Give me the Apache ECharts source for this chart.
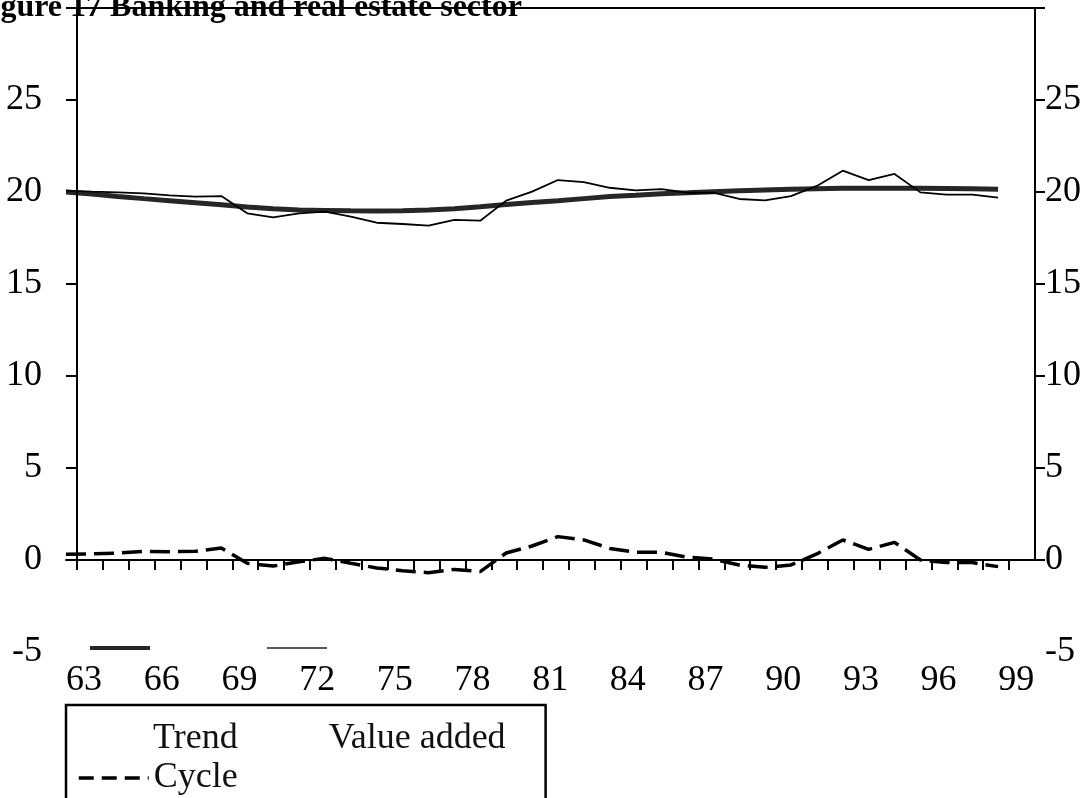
<!DOCTYPE html>
<html>
<head>
<meta charset="utf-8">
<script src="https://cdn.jsdelivr.net/npm/echarts@6/dist/echarts.min.js"></script>
<style>
  html, body { margin: 0; padding: 0; background: #fff; }
  #chart { width: 1089px; height: 798px; }
</style>
</head>
<body>
<div id="chart"></div>
<script>
// years 1963-1999 (two-digit labels)
var years = [63, 64, 65, 66, 67, 68, 69, 70, 71, 72, 73, 74, 75, 76, 77, 78, 79, 80, 81,
  82, 83, 84, 85, 86, 87, 88, 89, 90, 91, 92, 93, 94, 95, 96, 97, 98, 99];
var trend = [20.0, 19.89, 19.76, 19.64, 19.53, 19.42, 19.31, 19.18, 19.09, 19.02,
  19.0, 18.98, 18.97, 18.98, 19.02, 19.09, 19.2, 19.32, 19.43, 19.53,
  19.64, 19.75, 19.82, 19.91, 19.96, 20.02, 20.07, 20.11, 20.15, 20.18,
  20.2, 20.21, 20.21, 20.2, 20.19, 20.17, 20.15];
var valueAdded = [20.07, 20.02, 19.98, 19.93, 19.82, 19.75, 19.78, 18.84, 18.62, 18.84,
  18.93, 18.66, 18.33, 18.26, 18.17, 18.48, 18.44, 19.53, 20.02, 20.65,
  20.54, 20.23, 20.09, 20.16, 19.96, 19.96, 19.62, 19.55, 19.78, 20.33,
  21.16, 20.65, 20.98, 19.98, 19.86, 19.86, 19.69];
var cycle = [0.31, 0.33, 0.38, 0.47, 0.45, 0.47, 0.65, -0.18, -0.33, -0.09,
  0.09, -0.18, -0.43, -0.58, -0.69, -0.51, -0.63, 0.38, 0.76, 1.27,
  1.09, 0.63, 0.42, 0.42, 0.15, 0.05, -0.27, -0.4, -0.27, 0.33,
  1.09, 0.58, 0.96, 0.0, -0.14, -0.14, -0.36];
var xLabelYears = [63, 66, 69, 72, 75, 78, 81, 84, 87, 90, 93, 96, 99];
var yLabels = [-5, 0, 5, 10, 15, 20, 25];
var yTicks = [0, 5, 10, 15, 20, 25, 30];

var FONT = 'Liberation Serif';
// lines start at 63, the frame a bit to the right of it, like the original
var xMin = 63, xMax = 100.425;
var frameLeft = 63.425;
var labelShift = 0.7;

function pairs(vals) {
  return years.map(function (y, i) { return [y, vals[i]]; });
}

var xTicks = [];
for (var t = frameLeft; t < xMax - 0.5; t += 1) xTicks.push(t);

var textStyle = { fontFamily: FONT, fontSize: 36, color: '#111', lineHeight: 25 };

var chart = echarts.init(document.getElementById('chart'));
var option = {
  animation: false,
  title: {
    text: 'Figure 17 Banking and real estate sector',
    left: -28,
    top: -8,
    padding: 0,
    textStyle: { fontFamily: FONT, fontSize: 32, fontWeight: 'bold', color: '#000' }
  },
  grid: { left: 66, right: 54, top: 8, bottom: 146, outerBoundsMode: 'none' },
  legend: [
    {
      // box + first row
      left: 66,
      top: 705,
      padding: [16, 40, 80, 11],
      borderColor: '#000',
      borderWidth: 2.5,
      itemWidth: 70,
      itemHeight: 14,
      itemGap: 15,
      textStyle: textStyle,
      data: [
        { name: 'Trend', lineStyle: { opacity: 0 }, itemStyle: { opacity: 0 } },
        { name: 'Value added', lineStyle: { opacity: 0 }, itemStyle: { opacity: 0 } }
      ]
    },
    {
      left: 66,
      top: 760,
      padding: [0, 0, 0, 11],
      itemWidth: 70,
      itemHeight: 14,
      textStyle: textStyle,
      data: [
        { name: 'Cycle', lineStyle: { type: [15, 8], width: 3.5 }, itemStyle: { opacity: 0 } }
      ]
    }
  ],
  // legend keys that slipped above the labels in the original
  graphic: [
    { type: 'line', shape: { x1: 90, y1: 648, x2: 150, y2: 648 }, style: { stroke: '#262626', lineWidth: 4 } },
    { type: 'line', shape: { x1: 267, y1: 648, x2: 327, y2: 648 }, style: { stroke: '#222', lineWidth: 1.5 } }
  ],
  xAxis: {
    type: 'value',
    min: xMin,
    max: xMax,
    axisLine: { show: true, onZero: true, lineStyle: { color: '#000', width: 2 } },
    axisTick: { show: true, inside: false, length: 10, customValues: xTicks, lineStyle: { color: '#000', width: 2 } },
    axisLabel: {
      customValues: xLabelYears.map(function (y) { return y + labelShift; }),
      formatter: function (v) { return String(Math.round(v - labelShift)); },
      margin: 11,
      fontFamily: FONT, fontSize: 36, color: '#000'
    },
    splitLine: { show: false }
  },
  yAxis: [
    {
      type: 'value', min: -5, max: 30, interval: 5,
      axisLine: { show: false },
      axisTick: { show: true, inside: true, length: 11, customValues: yTicks, lineStyle: { color: '#000', width: 2 } },
      axisLabel: { customValues: yLabels, margin: 24, fontFamily: FONT, fontSize: 36, color: '#000' },
      splitLine: { show: false }
    },
    {
      type: 'value', min: -5, max: 30, interval: 5, position: 'right',
      axisLine: { show: false },
      axisTick: { show: true, inside: false, length: 10, customValues: yTicks, lineStyle: { color: '#000', width: 2 } },
      axisLabel: { customValues: yLabels, margin: 10, fontFamily: FONT, fontSize: 36, color: '#000' },
      splitLine: { show: false }
    }
  ],
  series: [
    {
      name: 'Trend', type: 'line', data: pairs(trend),
      symbol: 'none', clip: false, z: 2,
      color: '#262626',
      lineStyle: { color: '#262626', width: 5 }
    },
    {
      name: 'Value added', type: 'line', data: pairs(valueAdded),
      symbol: 'none', clip: false, z: 3,
      color: '#000',
      lineStyle: { color: '#000', width: 1.8 },
      // frame: side axes from 0 up, and the top border
      markLine: {
        silent: true,
        symbol: ['none', 'none'],
        label: { show: false },
        lineStyle: { color: '#000', width: 2, type: 'solid' },
        data: [
          [{ coord: [frameLeft, 0] }, { coord: [frameLeft, 30] }],
          [{ coord: [xMax, 0] }, { coord: [xMax, 30] }],
          [{ coord: [frameLeft, 30] }, { coord: [xMax, 30] }]
        ]
      }
    },
    {
      name: 'Cycle', type: 'line', data: pairs(cycle),
      symbol: 'none', clip: false, z: 3,
      color: '#000',
      lineStyle: { color: '#000', width: 3.5, type: [20, 8] }
    }
  ]
};
chart.setOption(option);
</script>
</body>
</html>
